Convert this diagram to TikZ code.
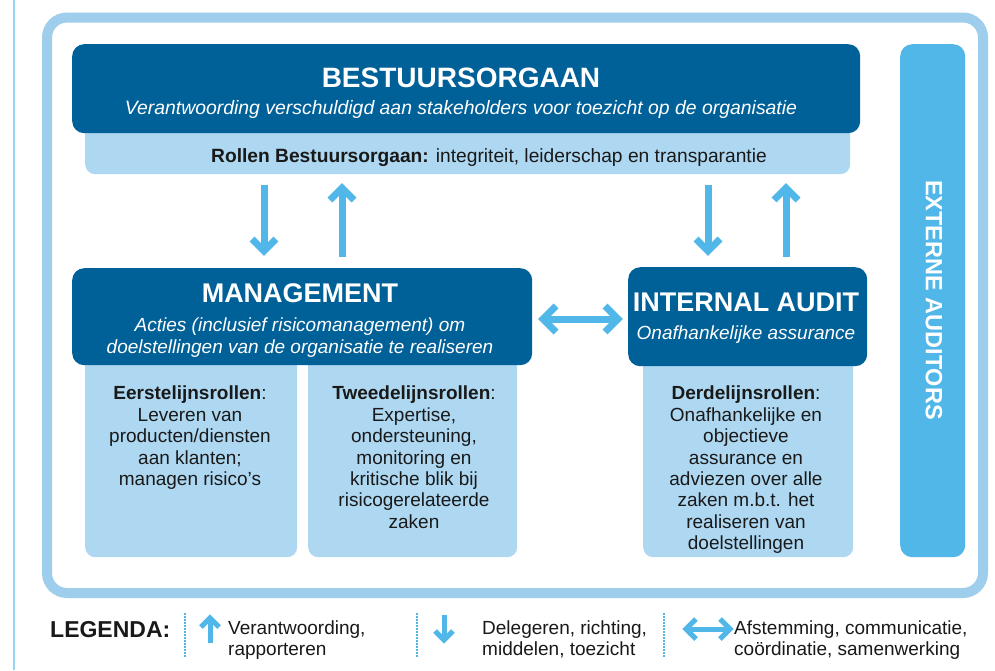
\documentclass[tikz,border=0pt]{standalone}
\usepackage{fontspec}
\setmainfont{Liberation Sans}
\usetikzlibrary{calc}
\definecolor{dblue}{RGB}{0,96,152}
\definecolor{lblue}{RGB}{174,216,242}
\definecolor{fblue}{RGB}{158,206,236}
\definecolor{sblue}{RGB}{80,183,232}
\definecolor{txt}{RGB}{25,25,25}
\begin{document}
\begin{tikzpicture}[x=1pt,y=-1pt,
  darkbox/.style={fill=dblue, rounded corners=12pt, anchor=north west, inner sep=0},
  lightbox/.style={fill=lblue, rounded corners=10pt, anchor=north west, inner sep=0},
  shaft/.style={draw=sblue, line width=7pt},
  head/.style={draw=sblue, line width=7pt, line join=miter},
  lshaft/.style={draw=sblue, line width=5pt},
  lhead/.style={draw=sblue, line width=5pt, line join=miter},
  sep/.style={draw=sblue, line width=1.6pt, dash pattern=on 1.6pt off 1.4pt},
  title/.style={text=white, font=\fontsize{27}{30}\selectfont\bfseries, inner sep=0, anchor=base},
  sub/.style={text=white, font=\fontsize{19}{22}\selectfont\itshape, inner sep=0, align=center},
  body/.style={text=txt, font=\fontsize{19}{21.4}\selectfont, inner sep=0, align=center, anchor=north},
  legend/.style={text=txt, font=\fontsize{19}{20.5}\selectfont, inner sep=0, align=left, anchor=north west}
]
\fill[white] (0,0) rectangle (995,670);
\useasboundingbox (0,0) rectangle (995,670);

% thin left line
\draw[draw=sblue!60, line width=1.2pt] (14,0) -- (14,670);

% outer frame
\node[draw=fblue, line width=10pt, rounded corners=20pt, minimum width=936pt, minimum height=575.5pt, anchor=north west, inner sep=0] (frame) at (42,12.5) {};

% Bestuursorgaan
\node[lightbox, minimum width=765pt, minimum height=54pt] (bor) at (85,120) {};
\node[darkbox, minimum width=788pt, minimum height=89pt] (bo) at (72,44) {};
\node[title, font=\fontsize{28}{30}\selectfont\bfseries] (botitle) at (461,87) {BESTUURSORGAAN};
\node[sub, anchor=base, font=\fontsize{19.4}{22}\selectfont\itshape] (bosub) at (461,114) {Verantwoording verschuldigd aan stakeholders voor toezicht op de organisatie};
\node[text=txt, font=\fontsize{19.2}{21}\selectfont, inner sep=0, anchor=base] (bortext) at (489,162) {\textbf{Rollen Bestuursorgaan:} integriteit, leiderschap en transparantie};

% external auditors
\node[fill=sblue, rounded corners=12pt, minimum width=65pt, minimum height=513pt, anchor=north west, inner sep=0] (ext) at (900,44) {};
\node[rotate=-90, text=white, font=\fontsize{23.5}{26}\selectfont\bfseries, inner sep=0] (exttext) at (934,300) {EXTERNE AUDITORS};

% lower light boxes
\node[lightbox, minimum width=212pt, minimum height=207pt] (l1) at (85,350) {};
\node[lightbox, minimum width=209pt, minimum height=207pt] (l2) at (308,350) {};
\node[lightbox, minimum width=210pt, minimum height=207pt] (l3) at (643,350) {};

% management
\node[darkbox, minimum width=460pt, minimum height=97pt] (mg) at (72,268) {};
\node[title] (mgtitle) at (300,302) {MANAGEMENT};
\node[sub, anchor=north] (mgsub) at (300,318) {Acties (inclusief risicomanagement) om\\doelstellingen van de organisatie te realiseren};

% internal audit
\node[darkbox, minimum width=239pt, minimum height=99pt] (ia) at (628,267) {};
\node[title] (iatitle) at (746,311) {INTERNAL AUDIT};
\node[sub, anchor=base] (iasub) at (746,339) {Onafhankelijke assurance};

% role texts
\node[body] (t1) at (190,386) {\textbf{Eerstelijnsrollen}:\\Leveren van\\producten/diensten\\aan klanten;\\managen risico’s};
\node[body] (t2) at (414,386) {\textbf{Tweedelijnsrollen}:\\Expertise,\\ondersteuning,\\monitoring en\\kritische blik bij\\risicogerelateerde\\zaken};
\node[body] (t3) at (746,386) {\textbf{Derdelijnsrollen}:\\Onafhankelijke en\\objectieve\\assurance en\\adviezen over alle\\zaken m.b.t. het\\realiseren van\\doelstellingen};

% vertical arrows left
\coordinate (d1a) at (264,185); \coordinate (d1b) at (264,251);
\draw[shaft] (d1a) -- (d1b);
\draw[head] ($(d1b)+(-12,-12)$) -- (d1b) -- ($(d1b)+(12,-12)$);
\coordinate (u1a) at (342,257); \coordinate (u1b) at (342,188);
\draw[shaft] (u1a) -- (u1b);
\draw[head] ($(u1b)+(-12,12)$) -- (u1b) -- ($(u1b)+(12,12)$);
% vertical arrows right
\coordinate (d2a) at (708,185); \coordinate (d2b) at (708,251);
\draw[shaft] (d2a) -- (d2b);
\draw[head] ($(d2b)+(-12,-12)$) -- (d2b) -- ($(d2b)+(12,-12)$);
\coordinate (u2a) at (786,257); \coordinate (u2b) at (786,188);
\draw[shaft] (u2a) -- (u2b);
\draw[head] ($(u2b)+(-12,12)$) -- (u2b) -- ($(u2b)+(12,12)$);
% horizontal double arrow
\coordinate (hl) at (543,319); \coordinate (hr) at (618,319);
\draw[shaft] (hl) -- (hr);
\draw[head] ($(hl)+(13,-13)$) -- (hl) -- ($(hl)+(13,13)$);
\draw[head] ($(hr)+(-13,-13)$) -- (hr) -- ($(hr)+(-13,13)$);

% legend
\node[text=txt, font=\fontsize{23}{26}\selectfont\bfseries, inner sep=0, anchor=base west] (leg) at (50,637) {LEGENDA:};
\draw[sep] (185,613) -- (185,657);
\draw[sep] (417,613) -- (417,657);
\draw[sep] (664,613) -- (664,657);
\coordinate (lu1) at (210,643); \coordinate (lu2) at (210,618);
\draw[lshaft] (lu1) -- (lu2);
\draw[lhead] ($(lu2)+(-9,9)$) -- (lu2) -- ($(lu2)+(9,9)$);
\node[legend] (lt1) at (228,621) {Verantwoording,\\rapporteren};
\coordinate (ld1) at (444,615); \coordinate (ld2) at (444,640);
\draw[lshaft] (ld1) -- (ld2);
\draw[lhead] ($(ld2)+(-9,-9)$) -- (ld2) -- ($(ld2)+(9,-9)$);
\node[legend] (lt2) at (482,621) {Delegeren, richting,\\middelen, toezicht};
\coordinate (lh1) at (686,629); \coordinate (lh2) at (730,629);
\draw[lshaft] (lh1) -- (lh2);
\draw[lhead] ($(lh1)+(10,-10)$) -- (lh1) -- ($(lh1)+(10,10)$);
\draw[lhead] ($(lh2)+(-10,-10)$) -- (lh2) -- ($(lh2)+(-10,10)$);
\node[legend] (lt3) at (734,621) {Afstemming, communicatie,\\coördinatie, samenwerking};
\end{tikzpicture}
\end{document}
